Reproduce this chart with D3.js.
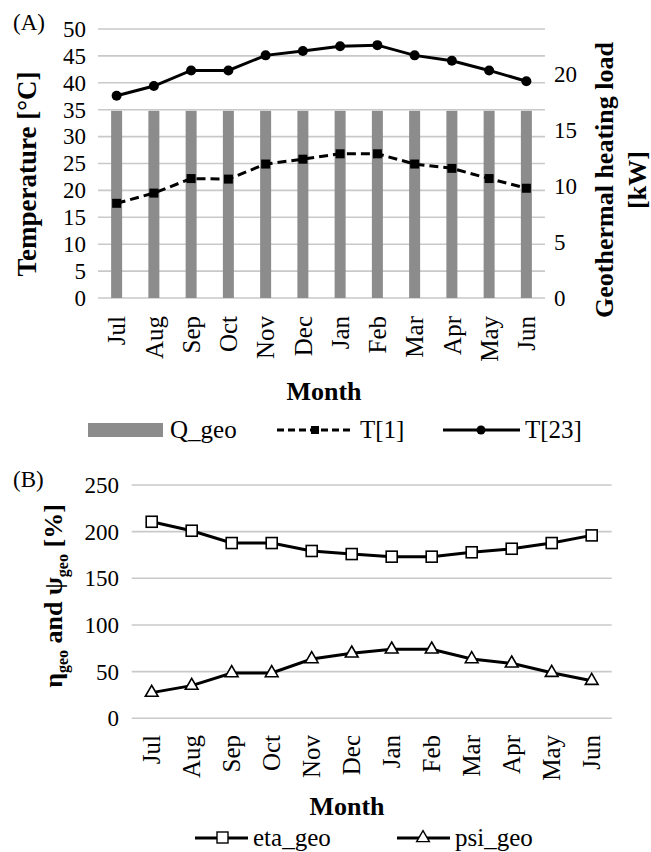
<!DOCTYPE html>
<html>
<head>
<meta charset="utf-8">
<script src="https://cdn.jsdelivr.net/npm/d3@7"></script>
<style>
  html, body { margin: 0; padding: 0; background: #fff; }
  svg { display: block; }
</style>
</head>
<body>
<svg id="chart" width="651" height="852"></svg>
<script>
// Monthly data
const months = ["Jul", "Aug", "Sep", "Oct", "Nov", "Dec", "Jan", "Feb", "Mar", "Apr", "May", "Jun"];
const qGeo = [16.7, 16.7, 16.7, 16.7, 16.7, 16.7, 16.7, 16.7, 16.7, 16.7, 16.7, 16.7];
const t1 = [17.6, 19.5, 22.2, 22.1, 24.9, 25.8, 26.8, 26.8, 24.9, 24.1, 22.2, 20.4];
const t23 = [37.6, 39.4, 42.3, 42.3, 45.1, 45.9, 46.8, 47.0, 45.1, 44.1, 42.3, 40.3];
const etaGeo = [210.6, 201.0, 187.8, 187.8, 179.3, 176.0, 173.2, 173.2, 177.9, 181.7, 187.8, 196.0];
const psiGeo = [27.5, 35.0, 48.5, 48.5, 63.5, 69.6, 73.9, 73.9, 63.5, 58.9, 48.9, 40.3];

const tempTicks = [0, 5, 10, 15, 20, 25, 30, 35, 40, 45, 50];
const loadTicks = [0, 5, 10, 15, 20];
const pctTicks = [0, 50, 100, 150, 200, 250];

const FONT = '"Liberation Serif"';
const svg = d3.select("#chart");
const GRID = "#c9c9c9";
const BAR = "#8c8c8c";

function setFont(sel, size, bold) {
  return sel.attr("font-family", null)
    .style("font-family", FONT)
    .style("font-size", size + "px")
    .style("font-weight", bold ? "bold" : "normal")
    .attr("fill", "#000");
}
function txt(parent, size, bold) {
  return setFont(parent.append("text"), size, bold);
}

function drawGrid(g, y, ticks, x0, x1) {
  g.append("g").selectAll("line").data(ticks).join("line")
    .attr("x1", x0).attr("x2", x1)
    .attr("y1", d => y(d)).attr("y2", d => y(d))
    .attr("stroke", GRID).attr("stroke-width", 1.6);
}

function styleAxis(sel, size) {
  sel.attr("font-family", null).attr("font-size", null);
  sel.select(".domain").remove();
  sel.selectAll(".tick line").remove();
  setFont(sel.selectAll("text"), size, false);
}

function monthAxis(yPos, x) {
  const ax = svg.append("g").attr("transform", `translate(0,${yPos})`)
    .call(d3.axisBottom(x).tickSize(0).tickPadding(0));
  styleAxis(ax, 25);
  ax.selectAll("text")
    .attr("transform", "rotate(-90)")
    .attr("text-anchor", "end")
    .attr("x", -2).attr("y", 0).attr("dy", "0.35em");
}

/* ---------- Panel (A) ---------- */
const xA = d3.scaleBand().domain(months).range([98, 545]);
const yT = d3.scaleLinear().domain([0, 50]).range([298, 29]);
const yQ = d3.scaleLinear().domain([0, 24]).range([298, 29]);

drawGrid(svg, yT, tempTicks, 98, 545);

// geothermal heating load bars
svg.append("g").selectAll("rect").data(qGeo).join("rect")
  .attr("x", (d, i) => xA(months[i]) + xA.bandwidth() / 2 - 5.5)
  .attr("width", 11)
  .attr("y", d => yQ(d))
  .attr("height", d => yQ(0) - yQ(d))
  .attr("fill", BAR);

const lineA = d3.line().x((d, i) => xA(months[i]) + xA.bandwidth() / 2).y(d => yT(d));

svg.append("path").datum(t1).attr("d", lineA)
  .attr("fill", "none").attr("stroke", "#000").attr("stroke-width", 3)
  .attr("stroke-dasharray", "9,5");
svg.append("g").selectAll("rect").data(t1).join("rect")
  .attr("x", (d, i) => xA(months[i]) + xA.bandwidth() / 2 - 4.5)
  .attr("y", d => yT(d) - 4.5)
  .attr("width", 9).attr("height", 9).attr("fill", "#000");

svg.append("path").datum(t23).attr("d", lineA)
  .attr("fill", "none").attr("stroke", "#000").attr("stroke-width", 3);
svg.append("g").selectAll("circle").data(t23).join("circle")
  .attr("cx", (d, i) => xA(months[i]) + xA.bandwidth() / 2)
  .attr("cy", d => yT(d)).attr("r", 5).attr("fill", "#000");

const axL = svg.append("g").attr("transform", "translate(86,0)")
  .call(d3.axisLeft(yT).tickValues(tempTicks).tickSize(0).tickPadding(0));
styleAxis(axL, 23);

const axR = svg.append("g").attr("transform", "translate(554,0)")
  .call(d3.axisRight(yQ).tickValues(loadTicks).tickSize(0).tickPadding(0));
styleAxis(axR, 23);

monthAxis(314, xA);

txt(svg, 23).attr("x", 13).attr("y", 30).text("(A)");

txt(svg, 27, true)
  .attr("transform", "translate(36,174) rotate(-90)")
  .attr("text-anchor", "middle")
  .text("Temperature [°C]");

const rt = txt(svg, 26, true)
  .attr("transform", "translate(613,180) rotate(-90)")
  .attr("text-anchor", "middle");
rt.append("tspan").attr("x", 0).attr("y", 0).text("Geothermal heating load");
rt.append("tspan").attr("x", 0).attr("y", 33).text("[kW]");

txt(svg, 26, true).attr("x", 324).attr("y", 400).attr("text-anchor", "middle").text("Month");

// legend (A)
const legA = svg.append("g");
legA.append("rect").attr("x", 88).attr("y", 423).attr("width", 75).attr("height", 14).attr("fill", BAR);
txt(legA, 25).attr("x", 170).attr("y", 438).text("Q_geo");
legA.append("line").attr("x1", 277).attr("x2", 353).attr("y1", 430).attr("y2", 430)
  .attr("stroke", "#000").attr("stroke-width", 3).attr("stroke-dasharray", "7,4");
legA.append("rect").attr("x", 311).attr("y", 426).attr("width", 8).attr("height", 8).attr("fill", "#000");
txt(legA, 25).attr("x", 360).attr("y", 438).text("T[1]");
legA.append("line").attr("x1", 443).attr("x2", 520).attr("y1", 430).attr("y2", 430)
  .attr("stroke", "#000").attr("stroke-width", 3);
legA.append("circle").attr("cx", 481).attr("cy", 430).attr("r", 4.5).attr("fill", "#000");
txt(legA, 25).attr("x", 525).attr("y", 438).text("T[23]");

/* ---------- Panel (B) ---------- */
const xB = d3.scaleBand().domain(months).range([131.7, 611.7]);
const yP = d3.scaleLinear().domain([0, 250]).range([718.3, 485]);

drawGrid(svg, yP, pctTicks, 131.7, 611.7);

const lineB = d3.line().x((d, i) => xB(months[i]) + xB.bandwidth() / 2).y(d => yP(d));

svg.append("path").datum(etaGeo).attr("d", lineB)
  .attr("fill", "none").attr("stroke", "#000").attr("stroke-width", 3);
svg.append("path").datum(psiGeo).attr("d", lineB)
  .attr("fill", "none").attr("stroke", "#000").attr("stroke-width", 3);

svg.append("g").selectAll("rect").data(etaGeo).join("rect")
  .attr("x", (d, i) => xB(months[i]) + xB.bandwidth() / 2 - 5.5)
  .attr("y", d => yP(d) - 5.5)
  .attr("width", 11).attr("height", 11)
  .attr("fill", "#fff").attr("stroke", "#000").attr("stroke-width", 1.6);

const tri = d3.symbol().type(d3.symbolTriangle).size(70);
svg.append("g").selectAll("path").data(psiGeo).join("path")
  .attr("d", tri)
  .attr("transform", (d, i) => `translate(${xB(months[i]) + xB.bandwidth() / 2},${yP(d)})`)
  .attr("fill", "#fff").attr("stroke", "#000").attr("stroke-width", 1.6);

const axB = svg.append("g").attr("transform", "translate(119,0)")
  .call(d3.axisLeft(yP).tickValues(pctTicks).tickSize(0).tickPadding(0));
styleAxis(axB, 23);

monthAxis(733, xB);

txt(svg, 23).attr("x", 13).attr("y", 487).text("(B)");

const lt = txt(svg, 26, true)
  .attr("transform", "translate(62,596) rotate(-90)")
  .attr("text-anchor", "middle");
lt.append("tspan").text("η");
lt.append("tspan").attr("dy", 6).style("font-size", "16px").text("geo");
lt.append("tspan").attr("dy", -6).text(" and ψ");
lt.append("tspan").attr("dy", 6).style("font-size", "16px").text("geo");
lt.append("tspan").attr("dy", -6).text(" [%]");

txt(svg, 26, true).attr("x", 347).attr("y", 815).attr("text-anchor", "middle").text("Month");

// legend (B)
const legB = svg.append("g");
legB.append("line").attr("x1", 195).attr("x2", 248).attr("y1", 838).attr("y2", 838)
  .attr("stroke", "#000").attr("stroke-width", 3);
legB.append("rect").attr("x", 217).attr("y", 832).attr("width", 11).attr("height", 11)
  .attr("fill", "#fff").attr("stroke", "#000").attr("stroke-width", 1.4);
txt(legB, 25).attr("x", 253).attr("y", 846).text("eta_geo");
legB.append("line").attr("x1", 397).attr("x2", 450).attr("y1", 838).attr("y2", 838)
  .attr("stroke", "#000").attr("stroke-width", 3);
legB.append("path").attr("d", tri).attr("transform", "translate(423,838)")
  .attr("fill", "#fff").attr("stroke", "#000").attr("stroke-width", 1.4);
txt(legB, 25).attr("x", 455).attr("y", 846).text("psi_geo");
</script>
</body>
</html>
